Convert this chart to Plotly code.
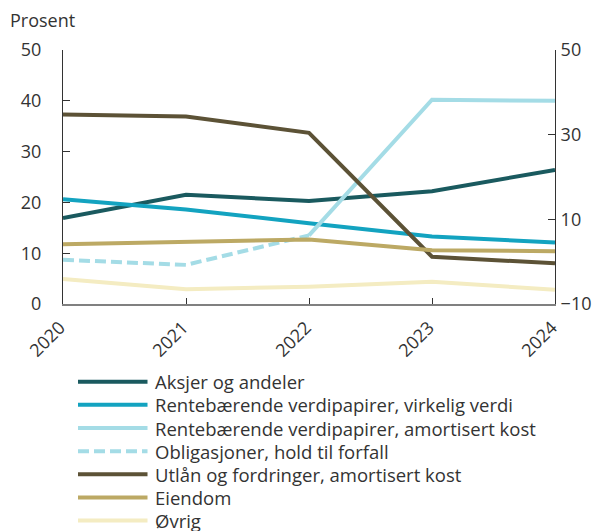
import plotly.graph_objects as go

years = [2020, 2021, 2022, 2023, 2024]

aksjer = [16.9, 21.5, 20.3, 22.2, 26.4]
rente_virkelig = [20.6, 18.6, 15.9, 13.3, 12.1]
rente_amort = [None, None, 13.5, 40.2, 40.0]
obligasjoner = [8.7, 7.7, 13.5, None, None]
utlan = [37.3, 36.9, 33.7, 9.3, 8.0]
eiendom = [11.75, 12.3, 12.7, 10.6, 10.4]
ovrig = [4.9, 2.9, 3.4, 4.4, 2.8]

names = [
    "Aksjer og andeler",
    "Rentebærende verdipapirer, virkelig verdi",
    "Rentebærende verdipapirer, amortisert kost",
    "Obligasjoner, hold til forfall",
    "Utlån og fordringer, amortisert kost",
    "Eiendom",
    "Øvrig",
]
series = [aksjer, rente_virkelig, rente_amort, obligasjoner, utlan, eiendom, ovrig]
colors = ["#1a5a5f", "#13a3c0", "#a4dce6", "#a4dce6", "#5c5236", "#bca964", "#f4ecc2"]
dashes = ["solid", "solid", "solid", "11px,5px", "solid", "solid", "solid"]

left_ticks = [0, 10, 20, 30, 40, 50]
right_ticks = [-10, 10, 30, 50]

OFF = 8  # page body margin offset
W, H = 605 - OFF, 531 - OFF
L, R, T, B = 63 - OFF, 555 - OFF, 50 - OFF, 304 - OFF  # plot area in figure px
pw, ph = R - L, B - T


def px_x(x):
    return (x - OFF - L) / pw


def px_y(y):
    return (B - (y - OFF)) / ph


fig = go.Figure()
for n, s, c, d in zip(names, series, colors, dashes):
    fig.add_trace(go.Scatter(
        x=years, y=s, name=n, mode="lines",
        line=dict(color=c, width=4, dash=d),
        connectgaps=False, showlegend=False,
    ))

# invisible trace for right axis
fig.add_trace(go.Scatter(x=years, y=[None] * 5, yaxis="y2", showlegend=False,
                         hoverinfo="skip", mode="lines"))

font = dict(family="Open Sans", size=18, color="#333333")
leg_font = dict(family="Open Sans", size=18.5, color="#333333")

shapes = []
annotations = []
leg_y0, leg_dy = 381.7, 23.15
for i, (n, c, d) in enumerate(zip(names, colors, dashes)):
    yy = leg_y0 + i * leg_dy
    shapes.append(dict(
        type="line", xref="paper", yref="paper",
        x0=px_x(78), x1=px_x(147.5), y0=px_y(yy), y1=px_y(yy),
        line=dict(color=c, width=4, dash=d),
    ))
    annotations.append(dict(
        text=n, xref="paper", yref="paper", x=px_x(153), y=px_y(yy),
        xanchor="left", yanchor="middle", showarrow=False, font=leg_font,
    ))

annotations.append(dict(
    text="Prosent", xref="paper", yref="paper", x=px_x(8), y=px_y(20),
    xanchor="left", yanchor="middle", showarrow=False, font=font,
))

fig.update_layout(
    width=W, height=H,
    margin=dict(l=L, r=W - R, t=T, b=H - B, autoexpand=False),
    paper_bgcolor="white", plot_bgcolor="white",
    font=font,
    showlegend=False,
    xaxis=dict(
        range=[2020, 2024], tickvals=years, ticktext=[str(y) for y in years],
        tickangle=-45, showgrid=False, zeroline=False, automargin=False,
        showline=True, linecolor="#808080", linewidth=2,
        ticks="inside", ticklen=6, tickcolor="#333333",
        tickfont=font, ticklabelstandoff=4, ticklabelshift=-3,
    ),
    yaxis=dict(
        range=[0, 50], tickvals=left_ticks, showgrid=False, zeroline=False,
        showline=True, linecolor="#333333", linewidth=1, automargin=False,
        ticks="inside", ticklen=7, tickcolor="#333333", tickfont=font,
        ticklabelstandoff=17,
    ),
    yaxis2=dict(
        range=[-10, 50], tickvals=right_ticks, overlaying="y", side="right",
        showgrid=False, zeroline=False, showline=True, linecolor="#333333",
        linewidth=1, ticks="inside", ticklen=7, tickcolor="#333333",
        tickfont=font, automargin=False, ticklabelstandoff=1,
    ),
    shapes=shapes,
    annotations=annotations,
)

fig.write_html("out.html")
